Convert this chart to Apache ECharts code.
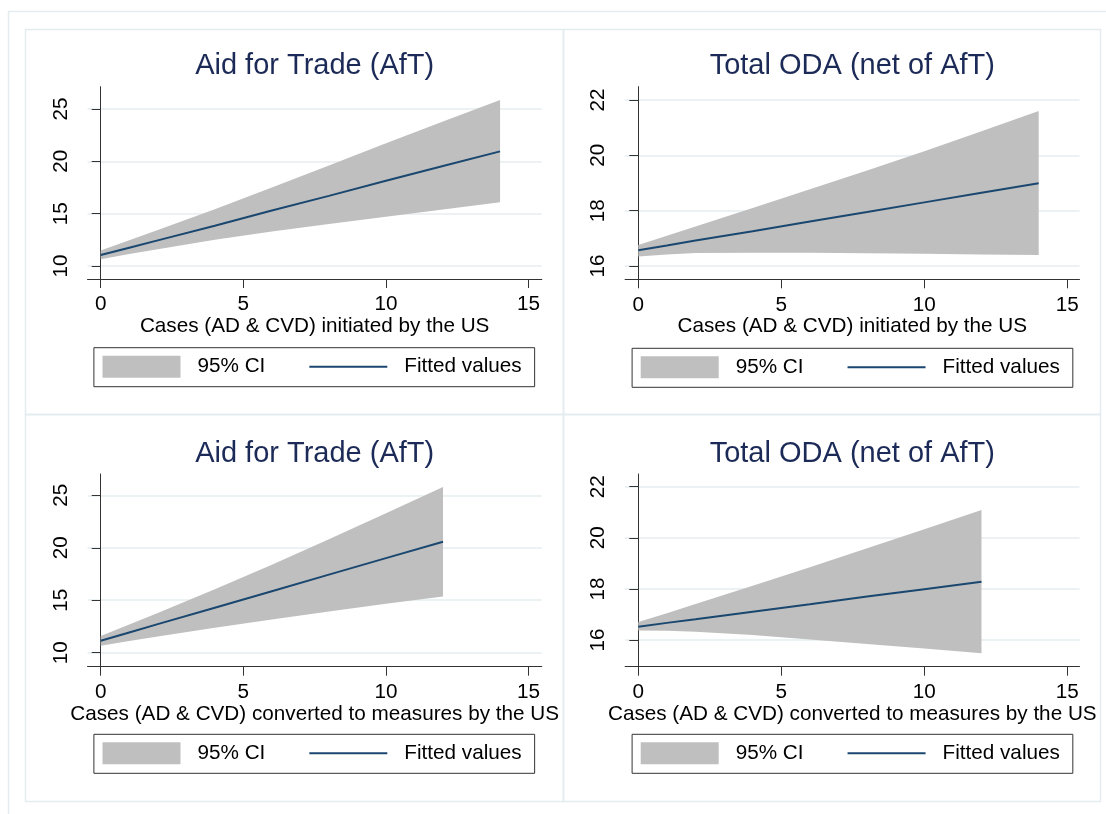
<!DOCTYPE html>
<html>
<head>
<meta charset="utf-8">
<title>Fitted values with 95% CI</title>
<script src="https://cdn.jsdelivr.net/npm/echarts@6/dist/echarts.min.js"></script>
<style>
    html, body { margin: 0; padding: 0; background: #fff; }
    #main { width: 1106px; height: 814px; }
</style>
</head>
<body>
<div id="main"></div>
<script>
// x positions
let xInit = [0, 1, 2, 4, 6, 8, 10, 12, 14];
let xConv = [0, 1, 2, 4, 6, 8, 10, 12];

// Aid for Trade vs cases initiated
let aftInitFit = [11.05, 11.75, 12.45, 13.85, 15.3, 16.7, 18.15, 19.55, 20.95];
let aftInitUp = [11.47, 12.45, 13.43, 15.43, 17.5, 19.6, 21.72, 23.8, 25.86];
let aftInitLo = [10.64, 11.14, 11.6, 12.5, 13.3, 14.02, 14.71, 15.4, 16.08];

// Total ODA vs cases initiated
let odaInitFit = [16.57, 16.74, 16.92, 17.26, 17.61, 17.95, 18.3, 18.65, 18.99];
let odaInitUp = [16.76, 17.09, 17.43, 18.1, 18.77, 19.45, 20.15, 20.87, 21.6];
let odaInitLo = [16.34, 16.42, 16.47, 16.48, 16.48, 16.46, 16.44, 16.42, 16.4];

// Aid for Trade vs cases converted to measures
let aftConvFit = [11.14, 11.93, 12.72, 14.29, 15.86, 17.44, 19.01, 20.58];
let aftConvUp = [11.59, 12.68, 13.78, 16.04, 18.38, 20.8, 23.28, 25.8];
let aftConvLo = [10.67, 11.12, 11.55, 12.38, 13.17, 13.93, 14.66, 15.36];

// Total ODA vs cases converted to measures
let odaConvFit = [16.52, 16.67, 16.81, 17.11, 17.4, 17.7, 17.99, 18.28];
let odaConvUp = [16.7, 17.05, 17.41, 18.12, 18.85, 19.59, 20.33, 21.09];
let odaConvLo = [16.37, 16.36, 16.32, 16.2, 16.02, 15.84, 15.67, 15.48];

// tick labels
let xTicks = [0, 5, 10, 15];
let aftTicks = [10, 15, 20, 25];
let odaTicks = [16, 18, 20, 22];

let panelTitles = ['Aid for Trade (AfT)', 'Total ODA (net of AfT)', 'Aid for Trade (AfT)', 'Total ODA (net of AfT)'];
let xTitles = [
    'Cases (AD & CVD) initiated by the US',
    'Cases (AD & CVD) initiated by the US',
    'Cases (AD & CVD) converted to measures by the US',
    'Cases (AD & CVD) converted to measures by the US'
];
let legendNames = ['95% CI', 'Fitted values'];

let font = "'Liberation Sans', Arial, sans-serif";
let navy = '#1a476f';
let ciGray = '#bfbfbf';
let frameColor = '#e3ecef';
let gridColor = '#e6eef1';
let axisColor = '#333';
let textSize = 20.7;

// layout of the 4 panels (pixels), data picked from the arrays above
let panels = [
    { grid: { left: 87.5, top: 86.7, width: 454.3, height: 192.3 }, xr: [-0.463, 15.463], yr: [8.758, 27.13],
      yTicks: aftTicks, xs: xInit, fit: aftInitFit, up: aftInitUp, lo: aftInitLo, titleTop: 51.3, nameGap: 34, legend: [93.9, 347.7] },
    { grid: { left: 625.1, top: 86.7, width: 454.4, height: 192.6 }, xr: [-0.4615, 15.427], yr: [15.52, 22.48],
      yTicks: odaTicks, xs: xInit, fit: odaInitFit, up: odaInitUp, lo: odaInitLo, titleTop: 51.3, nameGap: 34, legend: [632.1, 348.3] },
    { grid: { left: 87.5, top: 474, width: 454.3, height: 192.7 }, xr: [-0.463, 15.463], yr: [8.666, 27.03],
      yTicks: aftTicks, xs: xConv, fit: aftConvFit, up: aftConvUp, lo: aftConvLo, titleTop: 439, nameGap: 33.3, legend: [93.9, 734.3] },
    { grid: { left: 625.1, top: 474, width: 454.4, height: 192.7 }, xr: [-0.4615, 15.427], yr: [14.955, 22.497],
      yTicks: odaTicks, xs: xConv, fit: odaConvFit, up: odaConvUp, lo: odaConvLo, titleTop: 439, nameGap: 33.3, legend: [632.1, 734.3] }
];

let chart = echarts.init(document.getElementById('main'));

let option = {
    backgroundColor: '#fff',
    animation: false,
    grid: [],
    xAxis: [],
    yAxis: [],
    title: [],
    legend: [],
    series: [],
    graphic: [
        // outer frame and panel borders
        { type: 'rect', silent: true, z: 0, shape: { x: 8.5, y: 11.5, width: 1120, height: 830 }, style: { fill: 'none', stroke: frameColor, lineWidth: 1.5 } },
        { type: 'rect', silent: true, z: 0, shape: { x: 25.5, y: 29.5, width: 538, height: 385 }, style: { fill: 'none', stroke: frameColor, lineWidth: 1.5 } },
        { type: 'rect', silent: true, z: 0, shape: { x: 563.5, y: 29.5, width: 537, height: 385 }, style: { fill: 'none', stroke: frameColor, lineWidth: 1.5 } },
        { type: 'rect', silent: true, z: 0, shape: { x: 25.5, y: 414.5, width: 538, height: 387 }, style: { fill: 'none', stroke: frameColor, lineWidth: 1.5 } },
        { type: 'rect', silent: true, z: 0, shape: { x: 563.5, y: 414.5, width: 537, height: 387 }, style: { fill: 'none', stroke: frameColor, lineWidth: 1.5 } }
    ]
};

panels.forEach(function (p, i) {
    let cx = p.grid.left + p.grid.width / 2;
    option.grid.push(p.grid);
    option.xAxis.push({
        gridIndex: i,
        type: 'value',
        min: p.xr[0],
        max: p.xr[1],
        name: xTitles[i],
        nameLocation: 'middle',
        nameGap: p.nameGap,
        nameTextStyle: { color: '#000', fontSize: textSize, fontFamily: font },
        axisLine: { onZero: false, lineStyle: { color: axisColor, width: 1 } },
        axisTick: { customValues: xTicks, length: 9, lineStyle: { color: axisColor } },
        axisLabel: { customValues: xTicks, margin: 15, color: '#000', fontSize: textSize, fontFamily: font },
        splitLine: { show: false }
    });
    option.yAxis.push({
        gridIndex: i,
        type: 'value',
        min: p.yr[0],
        max: p.yr[1],
        axisLine: { show: true, lineStyle: { color: axisColor, width: 1 } },
        axisTick: { show: true, customValues: p.yTicks, length: 9, lineStyle: { color: axisColor } },
        axisLabel: { customValues: p.yTicks, rotate: 90, margin: 16, color: '#000', fontSize: textSize, fontFamily: font },
        splitLine: { show: true, lineStyle: { color: gridColor, width: 1.5 } }
    });
    option.title.push({
        text: panelTitles[i],
        left: cx,
        top: p.titleTop,
        textAlign: 'center',
        padding: 0,
        textStyle: { color: '#1c2a57', fontSize: 29, fontWeight: 'normal', fontFamily: font }
    });
    option.legend.push({
        left: p.legend[0],
        top: p.legend[1],
        orient: 'horizontal',
        selectedMode: false,
        data: [
            { name: legendNames[0], icon: 'rect', itemStyle: { color: ciGray } },
            // hide the circle that line series put in their legend icon
            { name: legendNames[1], itemStyle: { color: 'rgba(0,0,0,0)', borderWidth: 0, opacity: 0 } }
        ],
        itemWidth: 78,
        itemHeight: 22,
        itemGap: 43,
        padding: [8, 13, 9, 8.6],
        borderColor: axisColor,
        borderWidth: 1,
        textStyle: { color: '#000', fontSize: textSize, fontFamily: font, padding: [0, 0, 0, 12] }
    });
    // 95% CI band as one polygon: upper bound forward, lower bound back
    option.series.push({
        type: 'custom',
        name: legendNames[0],
        xAxisIndex: i,
        yAxisIndex: i,
        silent: true,
        itemStyle: { color: ciGray },
        data: p.xs.map(function (x, k) { return [x, p.lo[k], p.up[k]]; }),
        encode: { x: 0, y: [1, 2] },
        renderItem: function (params, api) {
            if (params.dataIndex !== 0) {
                return;
            }
            let pts = [];
            for (let k = 0; k < p.xs.length; k++) {
                pts.push(api.coord([p.xs[k], p.up[k]]));
            }
            for (let k = p.xs.length - 1; k >= 0; k--) {
                pts.push(api.coord([p.xs[k], p.lo[k]]));
            }
            return { type: 'polygon', shape: { points: pts }, style: { fill: ciGray } };
        }
    });
    option.series.push({
        type: 'line',
        name: legendNames[1],
        xAxisIndex: i,
        yAxisIndex: i,
        data: p.xs.map(function (x, k) { return [x, p.fit[k]]; }),
        symbol: 'none',
        silent: true,
        itemStyle: { color: navy },
        lineStyle: { color: navy, width: 2 }
    });
});

chart.setOption(option);
window.addEventListener('resize', function () {
    chart.resize();
});
</script>
</body>
</html>
